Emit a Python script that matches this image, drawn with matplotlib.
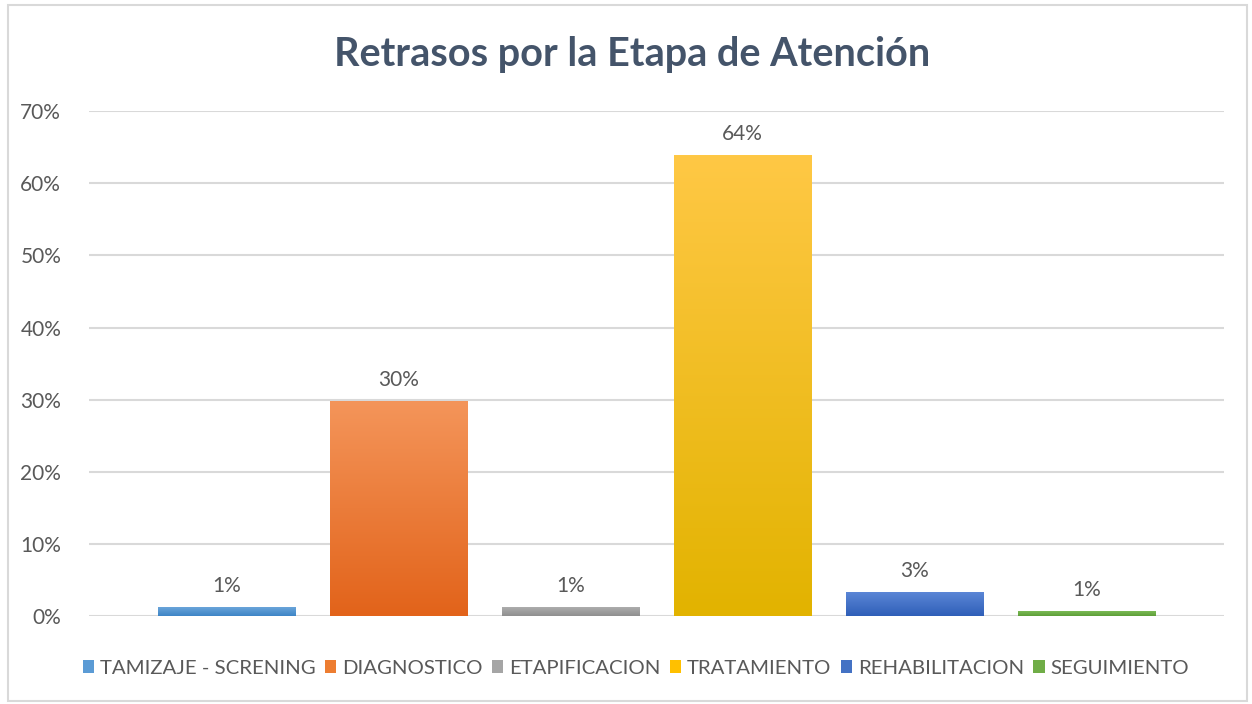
import numpy as np
from matplotlib import pyplot as plt
from matplotlib.patches import Rectangle, Patch
from matplotlib.colors import LinearSegmentedColormap

categorias = ["TAMIZAJE - SCRENING", "DIAGNOSTICO", "ETAPIFICACION",
              "TRATAMIENTO", "REHABILITACION", "SEGUIMIENTO"]
valores = [1.25, 29.8, 1.25, 63.9, 3.3, 0.7]
etiquetas = ["1%", "30%", "1%", "64%", "3%", "1%"]
# (color arriba, color abajo) del degradado
colores = [("#6FA8DC", "#3D85C6"),
           ("#F4955A", "#E2631A"),
           ("#B0B0B0", "#8F8F8F"),
           ("#FFC845", "#E2B300"),
           ("#5B86D6", "#2F5FB8"),
           ("#80C05A", "#5E9E38")]
legend_colores = ["#5B9BD5", "#ED7D31", "#A5A5A5", "#FFC000", "#4472C4", "#70AD47"]

plt.rcParams['font.family'] = ['Lato', 'DejaVu Sans']

fig = plt.figure(figsize=(12.52, 7.04), dpi=100)
ax = fig.add_axes([0.0711, 0.125, 0.978 - 0.0711, 0.842 - 0.125])

# marco del gráfico
fig.patches.append(Rectangle((0.006, 0.004), 0.99, 0.989, transform=fig.transFigure,
                             fill=False, edgecolor="#D9D9D9", linewidth=1.5))

x = np.arange(len(valores))
bars = ax.bar(x, valores, width=0.8, color="none", zorder=3)
grad = np.linspace(0, 1, 256).reshape(-1, 1)
for b, (c_top, c_bot) in zip(bars, colores):
    cmap = LinearSegmentedColormap.from_list("g", [c_top, c_bot])
    x0, y0 = b.get_x(), b.get_y()
    w, h = b.get_width(), b.get_height()
    im = ax.imshow(grad, cmap=cmap, aspect="auto", extent=[x0, x0 + w, y0, y0 + h],
                   origin="upper", zorder=3)
    im.set_clip_path(b)

for xi, v, t in zip(x, valores, etiquetas):
    ax.text(xi, v + 1.5, t, ha="center", va="bottom", fontsize=15, color="#595959")

ax.set_xlim(-0.802, 5.802)
ax.set_ylim(0, 70)
ax.set_yticks(range(0, 71, 10))
ax.set_yticklabels([f"{t}%" for t in range(0, 71, 10)])
ax.set_xticks([])
ax.tick_params(axis="y", length=0, pad=20, labelsize=15, labelcolor="#595959")
ax.grid(axis="y", color="#D9D9D9", linewidth=1.5, zorder=0)
ax.set_axisbelow(True)
for s in ax.spines.values():
    s.set_visible(False)

fig.text(0.505, 0.922, "Retrasos por la Etapa de Atención", ha="center", va="center",
         fontsize=28.5, fontweight="bold", color="#44546A")

handles = [Patch(facecolor=c, edgecolor="none") for c in legend_colores]
fig.legend(handles, categorias, loc="center", bbox_to_anchor=(0.508, 0.051), ncol=6,
           frameon=False, fontsize=14.7, labelcolor="#595959", handlelength=0.55,
           handleheight=0.55, handletextpad=0.3, columnspacing=0.45)

fig.savefig("out.png", dpi=100)
